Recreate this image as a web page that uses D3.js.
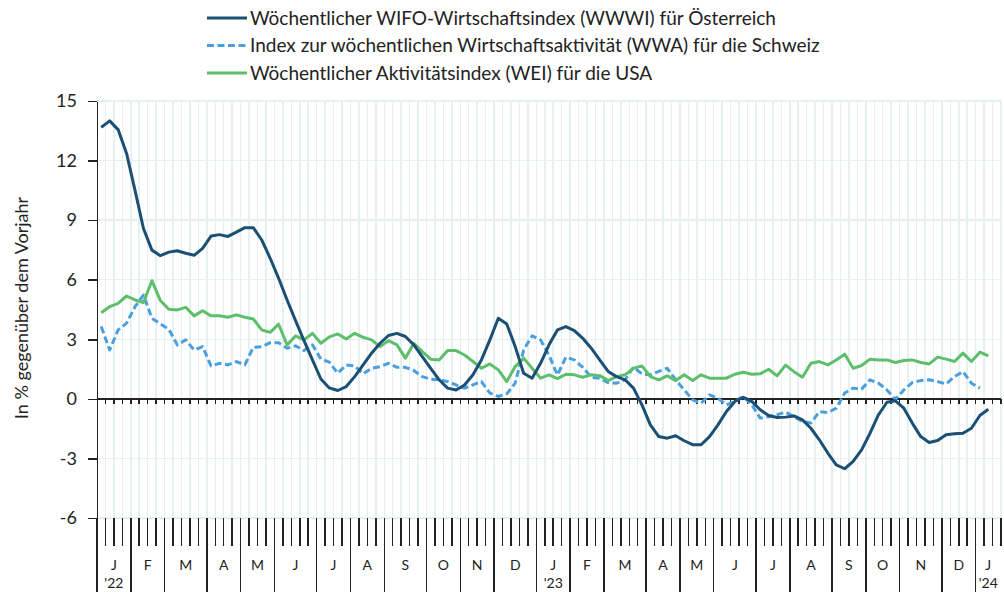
<!DOCTYPE html>
<meta charset="utf-8">
<style>
body { margin: 0; background: #fff; }
svg text { font-family: "Lato", "Open Sans", sans-serif; fill: #222; }
.grid line { stroke: #e7efef; stroke-width: 1.5; shape-rendering: crispEdges; }
.axis path, .axis line { stroke: #222; stroke-width: 1.5; shape-rendering: crispEdges; }
.series { fill: none; stroke-width: 3; stroke-linejoin: round; }
</style>
<body>
<div id="chart"></div>
<script src="https://d3js.org/d3.v7.min.js"></script>
<script>

// weekly growth rates, in % vs. previous year (one value per ISO week, starting week 1 of 2022)
var wwwi = [13.67, 14.0, 13.56, 12.36, 10.5, 8.58, 7.49, 7.21, 7.39, 7.46,
            7.33, 7.23, 7.58, 8.2, 8.27, 8.18, 8.4, 8.62, 8.62, 8.0,
            7.08, 6.07, 4.98, 3.94, 2.93, 1.96, 1.0, 0.55, 0.42, 0.62,
            1.12, 1.71, 2.3, 2.8, 3.19, 3.3, 3.14, 2.72, 2.13, 1.54,
            0.96, 0.54, 0.45, 0.7, 1.21, 1.96, 2.97, 4.06, 3.77, 2.63,
            1.29, 1.04, 1.79, 2.72, 3.47, 3.64, 3.44, 3.05, 2.55, 1.96,
            1.38, 1.12, 0.96, 0.54, -0.3, -1.31, -1.9, -1.98, -1.86, -2.11,
            -2.31, -2.31, -1.9, -1.31, -0.64, -0.13, 0.08, -0.13, -0.55, -0.84,
            -0.94, -0.92, -0.86, -1.06, -1.48, -2.06, -2.73, -3.32, -3.52, -3.15,
            -2.57, -1.73, -0.8, -0.17, -0.1, -0.47, -1.22, -1.9, -2.2, -2.1,
            -1.81, -1.76, -1.73, -1.48, -0.84, -0.52];

var wwa = [3.64, 2.46, 3.47, 3.81, 4.64, 5.23, 4.06, 3.77, 3.5, 2.72,
           2.97, 2.46, 2.63, 1.66, 1.79, 1.71, 1.88, 1.71, 2.6, 2.63,
           2.83, 2.83, 2.55, 2.67, 2.43, 2.72, 2.0, 1.85, 1.29, 1.71,
           1.66, 1.26, 1.54, 1.62, 1.79, 1.59, 1.59, 1.43, 1.12, 0.99,
           0.96, 0.87, 0.7, 0.54, 0.7, 0.87, 0.29, 0.12, 0.25, 0.79,
           2.46, 3.17, 2.97, 2.2, 1.2, 2.1, 1.96, 1.59, 1.09, 1.04,
           0.82, 0.79, 0.96, 1.59, 1.26, 1.21, 1.38, 1.54, 0.96, 0.45,
           -0.05, -0.22, 0.2, 0.03, -0.3, -0.13, 0.12, -0.3, -0.97, -0.9,
           -0.8, -0.67, -0.89, -1.14, -1.22, -0.64, -0.69, -0.47, 0.29, 0.54,
           0.49, 0.96, 0.79, 0.45, -0.02, 0.45, 0.82, 0.92, 0.96, 0.87,
           0.75, 1.12, 1.37, 0.79, 0.54];

var wei = [4.34, 4.64, 4.81, 5.18, 4.98, 4.85, 5.95, 4.95, 4.51, 4.48,
           4.61, 4.18, 4.44, 4.18, 4.18, 4.11, 4.23, 4.11, 4.02, 3.47,
           3.35, 3.76, 2.72, 3.17, 2.97, 3.3, 2.8, 3.12, 3.27, 3.02,
           3.3, 3.1, 2.97, 2.63, 2.93, 2.72, 2.05, 2.8, 2.38, 2.0,
           1.96, 2.43, 2.43, 2.21, 1.88, 1.54, 1.76, 1.46, 0.87, 1.63,
           2.05, 1.54, 1.04, 1.21, 1.02, 1.24, 1.21, 1.09, 1.21, 1.17,
           0.92, 1.12, 1.21, 1.54, 1.66, 1.12, 0.96, 1.16, 0.92, 1.21,
           0.92, 1.21, 1.04, 1.04, 1.04, 1.24, 1.34, 1.24, 1.26, 1.49,
           1.16, 1.7, 1.37, 1.09, 1.79, 1.88, 1.71, 1.96, 2.25, 1.54,
           1.68, 2.0, 1.96, 1.96, 1.83, 1.93, 1.96, 1.83, 1.76, 2.1,
           2.0, 1.88, 2.3, 1.88, 2.35, 2.16];

var seriesNames = ["Wöchentlicher WIFO-Wirtschaftsindex (WWWI) für Österreich",
                   "Index zur wöchentlichen Wirtschaftsaktivität (WWA) für die Schweiz",
                   "Wöchentlicher Aktivitätsindex (WEI) für die USA"];
var yTicks = [15, 12, 9, 6, 3, 0, -3, -6];
var monthLabels = ["J", "F", "M", "A", "M", "J", "J", "A", "S", "O", "N", "D"];
var yearLabels = {2022: "'22", 2023: "'23", 2024: "'24"};
var yTitle = "In % gegenüber dem Vorjahr";

// ISO weeks, identified by their Thursday
var weeks = d3.timeThursday.range(new Date(2022, 0, 6), new Date(2024, 0, 19));

var chartWidth = 1004, chartHeight = 592;
var margin = {top: 101, right: 3, bottom: 74, left: 97},
    width  = chartWidth - margin.left - margin.right,
    height = chartHeight - margin.top - margin.bottom;

var svg = d3.select("#chart").append("svg")
    .attr("width", chartWidth)
    .attr("height", chartHeight)
  .append("g")
    .attr("transform", "translate(" + margin.left + "," + margin.top + ")");

var x = d3.scaleBand()
    .domain(d3.range(weeks.length))
    .range([0, width])
    .padding(0);

var y = d3.scaleLinear()
    .domain([-6, 15])
    .range([height, 0]);

var xMid = i => x(i) + x.bandwidth() / 2;
var bounds = d3.range(weeks.length + 1).map(i => i * x.step());

// month groups
var months = d3.groups(d3.range(weeks.length), i => weeks[i].getFullYear() * 100 + weeks[i].getMonth())
    .map(([k, idx]) => ({year: Math.floor(k / 100), month: k % 100, start: idx[0], end: idx[idx.length - 1] + 1}));

// grid
var grid = svg.append("g").attr("class", "grid");
grid.selectAll(".v").data(bounds.slice(1)).enter().append("line")
    .attr("x1", d => d).attr("x2", d => d)
    .attr("y1", 0).attr("y2", height);
grid.selectAll(".h").data(yTicks).enter().append("line")
    .attr("x1", 0).attr("x2", width)
    .attr("y1", d => y(d)).attr("y2", d => y(d));

// y axis
var yAxis = svg.append("g")
    .attr("class", "axis axis--y")
    .call(d3.axisLeft(y).tickValues(yTicks).tickFormat(d => String(d))
        .tickSize(9).tickSizeOuter(0).tickPadding(11));
yAxis.selectAll("text").style("font-size", "18px").attr("fill", "#222");

svg.append("text")
    .attr("transform", "translate(" + (22 - margin.left) + "," + (308 - margin.top) + ") rotate(-90)")
    .attr("text-anchor", "middle")
    .attr("dy", "0.35em")
    .style("font-size", "18px")
    .text(yTitle);

// zero line with short weekly ticks
var zero = svg.append("g").attr("class", "axis axis--zero");
zero.append("line")
    .attr("x1", 0).attr("x2", width)
    .attr("y1", y(0)).attr("y2", y(0));
zero.selectAll(".tk").data(bounds.slice(1)).enter().append("line")
    .attr("x1", d => d).attr("x2", d => d)
    .attr("y1", y(0)).attr("y2", y(0) + 5);

// bottom week / month ticks
var monthStarts = new Set(months.map(m => m.start));
var bottom = svg.append("g").attr("class", "axis axis--x");
bottom.selectAll(".wk").data(d3.range(weeks.length + 1)).enter().append("line")
    .attr("x1", i => bounds[i]).attr("x2", i => bounds[i])
    .attr("y1", height)
    .attr("y2", i => monthStarts.has(i) ? chartHeight - margin.top : height + 28);

bottom.selectAll(".mlab").data(months).enter().append("text")
    .attr("x", m => (bounds[m.start] + bounds[m.end]) / 2)
    .attr("y", height + 47)
    .attr("text-anchor", "middle")
    .attr("dy", "0.35em")
    .style("font-size", "14px")
    .attr("fill", "#555")
    .text(m => monthLabels[m.month]);

bottom.selectAll(".ylab").data(months.filter(m => m.month === 0)).enter().append("text")
    .attr("x", m => (bounds[m.start] + bounds[m.end]) / 2)
    .attr("y", height + 65)
    .attr("text-anchor", "middle")
    .attr("dy", "0.35em")
    .style("font-size", "14px")
    .attr("fill", "#555")
    .text(m => yearLabels[m.year]);

// series
var series = [
    {name: seriesNames[1], values: wwa,  color: "#4a9fdf", dash: "7,3.5"},
    {name: seriesNames[2], values: wei,  color: "#5dbf6c", dash: null},
    {name: seriesNames[0], values: wwwi, color: "#1b4f73", dash: null}
];

var line = d3.line()
    .x((d, i) => xMid(i))
    .y(d => y(d));

svg.selectAll(".series").data(series).enter().append("path")
    .attr("class", "series")
    .attr("d", d => line(d.values))
    .attr("stroke", d => d.color)
    .attr("stroke-dasharray", d => d.dash);

// legend
var legendItems = [series[2], series[0], series[1]];
var legend = svg.append("g")
    .attr("class", "legend")
    .attr("transform", "translate(" + (207 - margin.left) + "," + (18 - margin.top) + ")");

var rows = legend.selectAll("g").data(legendItems).enter().append("g")
    .attr("transform", (d, i) => "translate(0," + (i * 27.5) + ")");
rows.append("line")
    .attr("x1", 0).attr("x2", 40)
    .attr("stroke", d => d.color)
    .attr("stroke-width", 3)
    .attr("stroke-dasharray", d => d.dash);
rows.append("text")
    .attr("x", 43)
    .attr("dy", "0.35em")
    .style("font-size", "19px")
    .text(d => d.name);

</script>
